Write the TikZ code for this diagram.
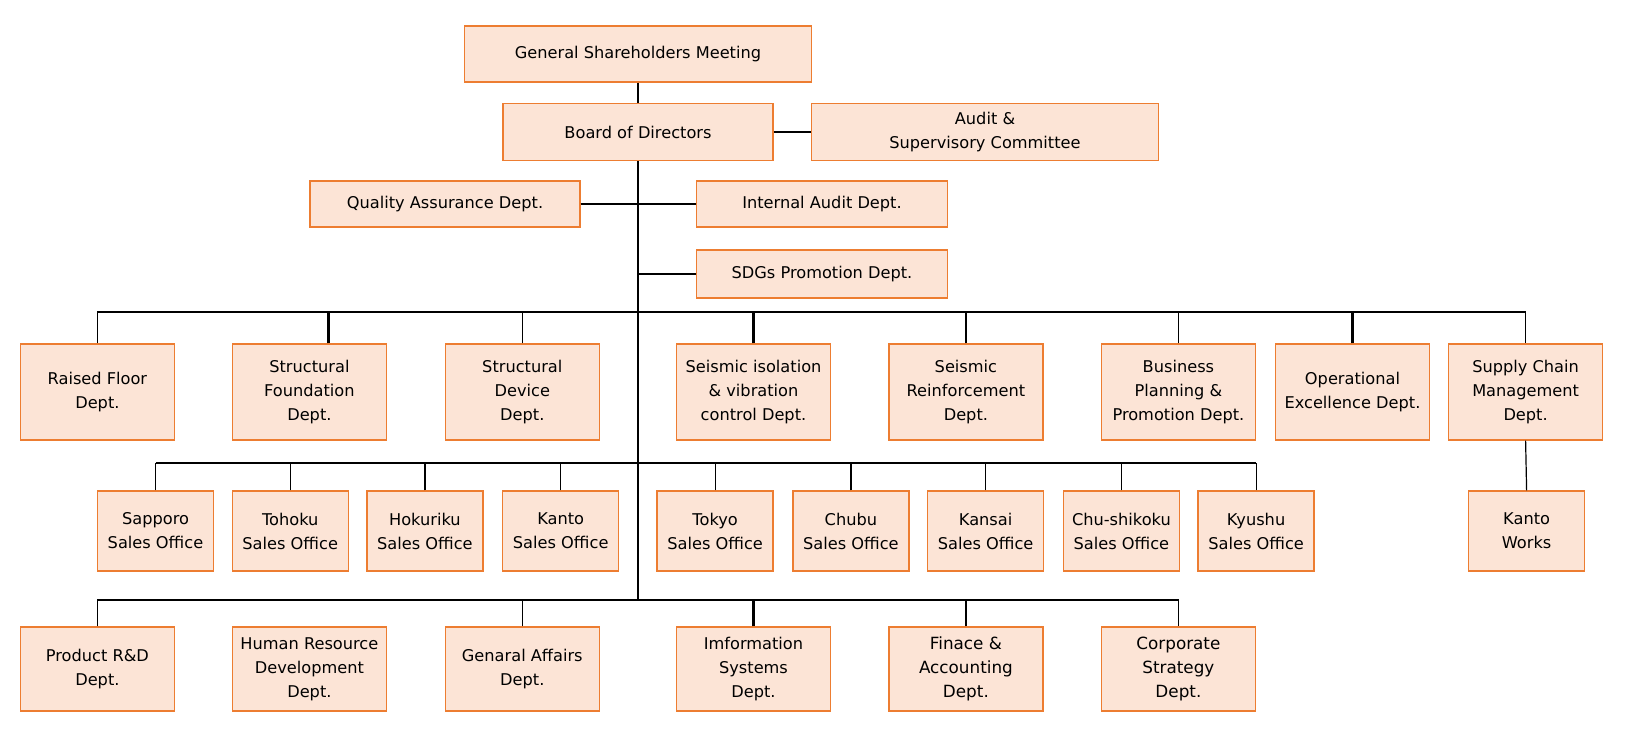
\documentclass[tikz,border=0pt]{standalone}
\usepackage{fontspec}
\setmainfont{DejaVu Sans}
\definecolor{boxfill}{HTML}{FCE4D6}
\definecolor{boxline}{HTML}{ED7D31}
\tikzset{
  unit/.style={draw=boxline, fill=boxfill, line width=1.4pt, align=center, inner sep=0pt,
    font=\fontsize{16.2}{24}\selectfont},
  widebox/.style={unit, minimum width=154pt, minimum height=96pt},
  lowbox/.style={unit, minimum width=154pt, minimum height=84pt},
  salesbox/.style={unit, minimum width=116pt, minimum height=80pt},
  vfont/.style={font=\fontsize{16.8}{24}\selectfont},
  link/.style={draw=black, line width=1.2pt},
  thicklink/.style={draw=black, line width=2.2pt},
}
\begin{document}
\begin{tikzpicture}[x=1pt, y=-1pt]
\useasboundingbox (0,0) rectangle (1625,744);
% top
\node[unit, minimum width=347pt, minimum height=56pt] (gsm) at (638,54) {General Shareholders Meeting};
\node[unit, minimum width=270pt, minimum height=57pt] (board) at (638,132) {Board of Directors};
\node[unit, minimum width=347pt, minimum height=57pt] (audit) at (985,132) {Audit \&\\Supervisory Committee};
\node[unit, minimum width=270pt, minimum height=46pt] (qa) at (445,204) {Quality Assurance Dept.};
\node[unit, minimum width=251pt, minimum height=46pt] (ia) at (822,204) {Internal Audit Dept.};
\node[unit, minimum width=251pt, minimum height=48pt] (sdgs) at (822,274) {SDGs Promotion Dept.};
% row 1
\node[widebox] (rf) at (97.4,392) {Raised Floor\\Dept.};
\node[widebox] (sf) at (309.4,392) {Structural\\Foundation\\Dept.};
\node[widebox] (sd) at (522.3,392) {Structural\\Device\\Dept.};
\node[widebox] (si) at (753.5,392) {Seismic isolation\\\& vibration\\control Dept.};
\node[widebox] (sr) at (965.9,392) {Seismic\\Reinforcement\\Dept.};
\node[widebox] (bp) at (1178.4,392) {Business\\Planning \&\\Promotion Dept.};
\node[widebox] (oe) at (1352.5,392) {Operational\\Excellence Dept.};
\node[widebox] (scm) at (1525.6,392) {Supply Chain\\Management\\Dept.};
% row 2
\node[salesbox] (sap) at (155.5,531) {Sapporo\\Sales Office};
\node[salesbox] (toh) at (290.2,531) {Tohoku\\Sales Office};
\node[salesbox] (hok) at (424.9,531) {Hokuriku\\Sales Office};
\node[salesbox] (kan) at (560.7,531) {Kanto\\Sales Office};
\node[salesbox] (tok) at (715.1,531) {Tokyo\\Sales Office};
\node[salesbox] (chu) at (850.9,531) {Chubu\\Sales Office};
\node[salesbox] (kns) at (985.6,531) {Kansai\\Sales Office};
\node[salesbox] (chs) at (1121.4,531) {Chu-shikoku\\Sales Office};
\node[salesbox] (kyu) at (1256.1,531) {Kyushu\\Sales Office};
\node[salesbox] (kw) at (1526.6,531) {Kanto\\Works};
% row 3
\node[lowbox] (prd) at (97.4,669) {Product R\&D\\Dept.};
\node[lowbox] (hr) at (309.4,669) {Human Resource\\Development\\Dept.};
\node[lowbox] (ga) at (522.3,669) {Genaral Affairs\\Dept.};
\node[lowbox] (is) at (753.5,669) {Imformation\\Systems\\Dept.};
\node[lowbox, vfont] (fa) at (965.9,669) {Finace \&\\Accounting\\Dept.};
\node[lowbox, vfont] (cs) at (1178.4,669) {Corporate\\Strategy\\Dept.};
% bus coordinates
\coordinate (bus1) at (638,312);
\coordinate (bus2) at (638,463.3);
\coordinate (bus3) at (638,600);
\coordinate (sftop) at ([xshift=19.1pt]sf.north);
% connectors top
\draw[link] (gsm.south) -- (board.north);
\draw[link] (board.east) -- (audit.west);
\draw[link] (board.south) -- (bus3);
\draw[link] (qa.east) -- (ia.west);
\draw[thicklink] (sdgs.west) -- (sdgs.west -| board.south);
% row 1
\draw[link] (rf.north) -- (rf.north |- bus1) -- (scm.north |- bus1) -- (scm.north);
\draw[thicklink] (sftop) -- (sftop |- bus1);
\draw[link] (sd.north) -- (sd.north |- bus1);
\draw[thicklink] (si.north) -- (si.north |- bus1);
\draw[link] (sr.north) -- (sr.north |- bus1);
\draw[link] (bp.north) -- (bp.north |- bus1);
\draw[thicklink] (oe.north) -- (oe.north |- bus1);
\draw[link] (scm.south) -- (kw.north);
% row 2
\draw[thicklink] (sap.north |- bus2) -- (kyu.north |- bus2);
\foreach \n in {sap,toh,hok,kan,tok,chu,kns,chs,kyu}
  \draw[link] (\n.north) -- (\n.north |- bus2);
% row 3
\draw[link] (prd.north) -- (prd.north |- bus3) -- (cs.north |- bus3) -- (cs.north);
\draw[link] (ga.north) -- (ga.north |- bus3);
\draw[thicklink] (is.north) -- (is.north |- bus3);
\draw[link] (fa.north) -- (fa.north |- bus3);
\end{tikzpicture}
\end{document}
